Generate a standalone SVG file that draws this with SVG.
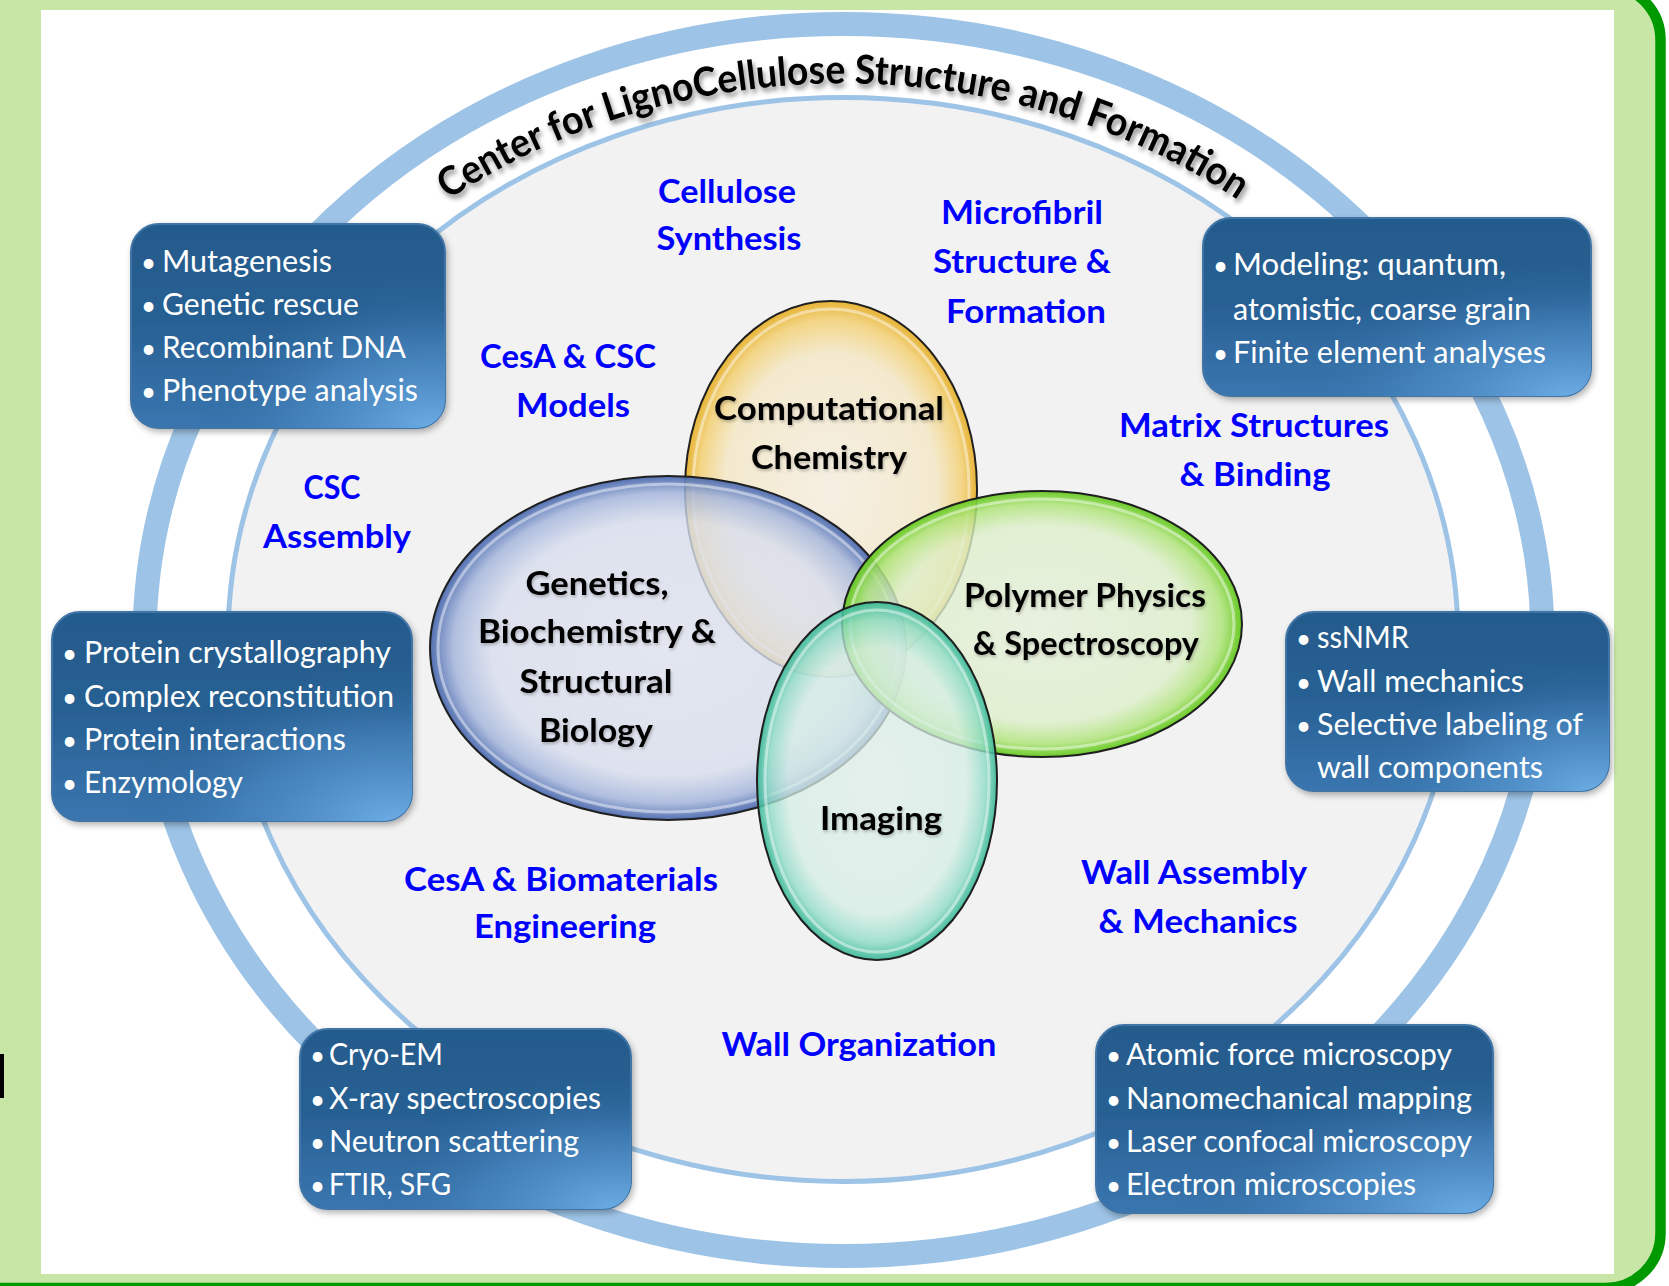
<svg xmlns="http://www.w3.org/2000/svg" xmlns:xlink="http://www.w3.org/1999/xlink" width="1669" height="1286" viewBox="0 0 1669 1286">
  <style>
    .title { font-family: Lato, "Open Sans", sans-serif; font-weight: 700; font-size: 40px; fill: #000; }
    .lbl { font-family: Lato, "Open Sans", sans-serif; font-weight: 700; font-size: 32px; fill: #0000ff; text-anchor: middle; }
    .vn { font-family: Lato, "Open Sans", sans-serif; font-weight: 700; font-size: 32px; fill: #000; text-anchor: middle; }
    .bx { font-family: Lato, "Open Sans", sans-serif; font-weight: 400; font-size: 31px; fill: #fff; }
    .dot { font-size: 26px; }
    .card { fill: url(#cardFill); stroke: #3f74a6; stroke-width: 2; filter: url(#cardShadow); }
    .gloss { fill: url(#cardGloss); }
    .ring-outer { fill: none; stroke: #9dc3e6; stroke-width: 24; }
    .ring-inner { fill: #f2f2f2; stroke: #9dc3e6; stroke-width: 5; }
    .venn { stroke: #1f1f1f; stroke-width: 2; }
    .rim { fill: none; stroke: #ffffff; stroke-width: 3; stroke-opacity: 0.45; }
  </style>
  <defs>
    <linearGradient id="cardFill" x1="0" y1="0" x2="0" y2="1">
      <stop offset="0" stop-color="#245b8c"/>
      <stop offset="0.45" stop-color="#275f92"/>
      <stop offset="1" stop-color="#3a76b0"/>
    </linearGradient>
    <radialGradient id="cardGloss" cx="0.95" cy="1" r="0.75" fx="0.95" fy="1">
      <stop offset="0" stop-color="#6eaee6" stop-opacity="0.95"/>
      <stop offset="0.55" stop-color="#4d8cc6" stop-opacity="0.55"/>
      <stop offset="1" stop-color="#2d6699" stop-opacity="0"/>
    </radialGradient>
    <filter id="cardShadow" x="-10%" y="-10%" width="125%" height="130%">
      <feDropShadow dx="2" dy="3" stdDeviation="3" flood-color="#000" flood-opacity="0.3"/>
    </filter>
    <filter id="titleShadow" x="-5%" y="-20%" width="110%" height="150%">
      <feDropShadow dx="2" dy="4" stdDeviation="2.5" flood-color="#000" flood-opacity="0.45"/>
    </filter>
    <filter id="softShadow" x="-10%" y="-10%" width="120%" height="130%">
      <feDropShadow dx="1" dy="2" stdDeviation="1.5" flood-color="#000" flood-opacity="0.25"/>
    </filter>
    <radialGradient id="gYellow" cx="0.5" cy="0.5" r="0.5">
      <stop offset="0" stop-color="#f6efe0" stop-opacity="0.85"/>
      <stop offset="0.72" stop-color="#f4e8c8" stop-opacity="0.85"/>
      <stop offset="0.9" stop-color="#f3d27a" stop-opacity="0.9"/>
      <stop offset="1" stop-color="#e6b02c" stop-opacity="0.95"/>
    </radialGradient>
    <radialGradient id="gBlue" cx="0.5" cy="0.5" r="0.5">
      <stop offset="0" stop-color="#dfe3ef" stop-opacity="0.8"/>
      <stop offset="0.74" stop-color="#d8deed" stop-opacity="0.8"/>
      <stop offset="0.9" stop-color="#a5b6dc" stop-opacity="0.85"/>
      <stop offset="1" stop-color="#4a69ae" stop-opacity="0.95"/>
    </radialGradient>
    <radialGradient id="gGreen" cx="0.5" cy="0.5" r="0.5">
      <stop offset="0" stop-color="#e5f0da" stop-opacity="0.8"/>
      <stop offset="0.74" stop-color="#ddefca" stop-opacity="0.8"/>
      <stop offset="0.9" stop-color="#b0e47a" stop-opacity="0.85"/>
      <stop offset="1" stop-color="#62c81c" stop-opacity="0.95"/>
    </radialGradient>
    <radialGradient id="gTeal" cx="0.5" cy="0.5" r="0.5">
      <stop offset="0" stop-color="#e0efe9" stop-opacity="0.75"/>
      <stop offset="0.74" stop-color="#d6eee6" stop-opacity="0.75"/>
      <stop offset="0.9" stop-color="#90dcc6" stop-opacity="0.8"/>
      <stop offset="1" stop-color="#34b795" stop-opacity="0.9"/>
    </radialGradient>
    <path id="titleArc" d="M 283 364 A 645 557 0 0 1 1403 364"/>
  </defs>

  <!-- page frame -->
  <rect x="0" y="0" width="1669" height="1286" fill="#ffffff"/>
  <rect x="-60" y="-15" width="1720.5" height="1303" rx="55" ry="55" fill="#c8e6a6" stroke="#009a00" stroke-width="10.5"/>
  <rect x="41" y="10" width="1573" height="1264" fill="#ffffff"/>
  <rect x="0" y="1054" width="4" height="44" fill="#000000"/>

  <!-- rings -->
  <g id="rings">
    <ellipse class="ring-outer" cx="843.5" cy="640" rx="699" ry="616"/>
    <ellipse class="ring-inner" cx="843" cy="639.5" rx="615" ry="542"/>
  </g>

  <!-- curved title -->
  <g id="title" filter="url(#titleShadow)">
    <text class="title"><textPath xlink:href="#titleArc" href="#titleArc" startOffset="50%" text-anchor="middle" textLength="835" lengthAdjust="spacingAndGlyphs">Center for LignoCellulose Structure and Formation</textPath></text>
  </g>

  <!-- research area labels -->
  <g id="area-labels">
    <g id="lbl-cellulose-synthesis">
      <text class="lbl" x="727" y="203" textLength="138" lengthAdjust="spacingAndGlyphs">Cellulose</text>
      <text class="lbl" x="729" y="250" textLength="145" lengthAdjust="spacingAndGlyphs">Synthesis</text>
    </g>
    <g id="lbl-microfibril">
      <text class="lbl" x="1022" y="224" textLength="162" lengthAdjust="spacingAndGlyphs">Microfibril</text>
      <text class="lbl" x="1022" y="273" textLength="178" lengthAdjust="spacingAndGlyphs">Structure &amp;</text>
      <text class="lbl" x="1026" y="323" textLength="160" lengthAdjust="spacingAndGlyphs">Formation</text>
    </g>
    <g id="lbl-cesa-csc">
      <text class="lbl" x="568" y="368" textLength="176" lengthAdjust="spacingAndGlyphs">CesA &amp; CSC</text>
      <text class="lbl" x="573" y="417" textLength="114" lengthAdjust="spacingAndGlyphs">Models</text>
    </g>
    <g id="lbl-csc-assembly">
      <text class="lbl" x="332" y="499" textLength="57" lengthAdjust="spacingAndGlyphs">CSC</text>
      <text class="lbl" x="337" y="548" textLength="148" lengthAdjust="spacingAndGlyphs">Assembly</text>
    </g>
    <g id="lbl-matrix">
      <text class="lbl" x="1254" y="437" textLength="270" lengthAdjust="spacingAndGlyphs">Matrix Structures</text>
      <text class="lbl" x="1255" y="486" textLength="151" lengthAdjust="spacingAndGlyphs">&amp; Binding</text>
    </g>
    <g id="lbl-biomaterials">
      <text class="lbl" x="561" y="891" textLength="314" lengthAdjust="spacingAndGlyphs">CesA &amp; Biomaterials</text>
      <text class="lbl" x="565" y="938" textLength="182" lengthAdjust="spacingAndGlyphs">Engineering</text>
    </g>
    <g id="lbl-wall-assembly">
      <text class="lbl" x="1194" y="884" textLength="226" lengthAdjust="spacingAndGlyphs">Wall Assembly</text>
      <text class="lbl" x="1198" y="933" textLength="199" lengthAdjust="spacingAndGlyphs">&amp; Mechanics</text>
    </g>
    <g id="lbl-wall-organization">
      <text class="lbl" x="859" y="1056" textLength="275" lengthAdjust="spacingAndGlyphs">Wall Organization</text>
    </g>
  </g>

  <!-- Venn of disciplines -->
  <g id="venn">
    <g id="comp-chem">
      <ellipse class="venn" cx="831" cy="489" rx="146" ry="188" fill="url(#gYellow)"/>
      <ellipse class="rim" cx="831" cy="489" rx="138" ry="180"/>
    </g>
    <g id="genetics">
      <ellipse class="venn" cx="668" cy="648" rx="238" ry="172" fill="url(#gBlue)"/>
      <ellipse class="rim" cx="668" cy="648" rx="230" ry="164"/>
    </g>
    <g id="polymer">
      <ellipse class="venn" cx="1042" cy="624" rx="200" ry="133" fill="url(#gGreen)"/>
      <ellipse class="rim" cx="1042" cy="624" rx="192" ry="125"/>
    </g>
    <g id="imaging">
      <ellipse class="venn" cx="877" cy="781" rx="120" ry="179" fill="url(#gTeal)"/>
      <ellipse class="rim" cx="877" cy="781" rx="112" ry="171"/>
    </g>
    <g id="venn-labels" filter="url(#softShadow)">
      <text class="vn" x="829" y="420" textLength="230" lengthAdjust="spacingAndGlyphs">Computational</text>
      <text class="vn" x="829" y="469" textLength="156" lengthAdjust="spacingAndGlyphs">Chemistry</text>
      <text class="vn" x="597" y="595" textLength="143" lengthAdjust="spacingAndGlyphs">Genetics,</text>
      <text class="vn" x="597" y="643" textLength="238" lengthAdjust="spacingAndGlyphs">Biochemistry &amp;</text>
      <text class="vn" x="596" y="693" textLength="153" lengthAdjust="spacingAndGlyphs">Structural</text>
      <text class="vn" x="596" y="742" textLength="114" lengthAdjust="spacingAndGlyphs">Biology</text>
      <text class="vn" x="1085" y="607" textLength="242" lengthAdjust="spacingAndGlyphs">Polymer Physics</text>
      <text class="vn" x="1086" y="655" textLength="226" lengthAdjust="spacingAndGlyphs">&amp; Spectroscopy</text>
      <text class="vn" x="881" y="830" textLength="122" lengthAdjust="spacingAndGlyphs">Imaging</text>
    </g>
  </g>

  <!-- method cards -->
  <g id="card-genetics">
    <rect class="card" x="131" y="224" width="314" height="204" rx="28"/>
    <rect class="gloss" x="131" y="224" width="314" height="204" rx="28"/>
    <text class="bx" y="272"><tspan class="dot" x="141">•</tspan><tspan x="162" textLength="170" lengthAdjust="spacingAndGlyphs">Mutagenesis</tspan></text>
    <text class="bx" y="315"><tspan class="dot" x="141">•</tspan><tspan x="162" textLength="197" lengthAdjust="spacingAndGlyphs">Genetic rescue</tspan></text>
    <text class="bx" y="358"><tspan class="dot" x="141">•</tspan><tspan x="162" textLength="244" lengthAdjust="spacingAndGlyphs">Recombinant DNA</tspan></text>
    <text class="bx" y="401"><tspan class="dot" x="141">•</tspan><tspan x="162" textLength="256" lengthAdjust="spacingAndGlyphs">Phenotype analysis</tspan></text>
  </g>
  <g id="card-modeling">
    <rect class="card" x="1203" y="218" width="388" height="178" rx="28"/>
    <rect class="gloss" x="1203" y="218" width="388" height="178" rx="28"/>
    <text class="bx" y="275"><tspan class="dot" x="1213">•</tspan><tspan x="1233" textLength="273" lengthAdjust="spacingAndGlyphs">Modeling: quantum,</tspan></text>
    <text class="bx" y="320"><tspan x="1233" textLength="298" lengthAdjust="spacingAndGlyphs">atomistic, coarse grain</tspan></text>
    <text class="bx" y="363"><tspan class="dot" x="1213">•</tspan><tspan x="1233" textLength="313" lengthAdjust="spacingAndGlyphs">Finite element analyses</tspan></text>
  </g>
  <g id="card-biochem">
    <rect class="card" x="52" y="612" width="360" height="209" rx="28"/>
    <rect class="gloss" x="52" y="612" width="360" height="209" rx="28"/>
    <text class="bx" y="663"><tspan class="dot" x="62">•</tspan><tspan x="84" textLength="307" lengthAdjust="spacingAndGlyphs">Protein crystallography</tspan></text>
    <text class="bx" y="707"><tspan class="dot" x="62">•</tspan><tspan x="84" textLength="310" lengthAdjust="spacingAndGlyphs">Complex reconstitution</tspan></text>
    <text class="bx" y="750"><tspan class="dot" x="62">•</tspan><tspan x="84" textLength="262" lengthAdjust="spacingAndGlyphs">Protein interactions</tspan></text>
    <text class="bx" y="793"><tspan class="dot" x="62">•</tspan><tspan x="84" textLength="159" lengthAdjust="spacingAndGlyphs">Enzymology</tspan></text>
  </g>
  <g id="card-nmr">
    <rect class="card" x="1286" y="612" width="323" height="179" rx="28"/>
    <rect class="gloss" x="1286" y="612" width="323" height="179" rx="28"/>
    <text class="bx" y="648"><tspan class="dot" x="1296">•</tspan><tspan x="1317" textLength="92" lengthAdjust="spacingAndGlyphs">ssNMR</tspan></text>
    <text class="bx" y="692"><tspan class="dot" x="1296">•</tspan><tspan x="1317" textLength="207" lengthAdjust="spacingAndGlyphs">Wall mechanics</tspan></text>
    <text class="bx" y="735"><tspan class="dot" x="1296">•</tspan><tspan x="1317" textLength="266" lengthAdjust="spacingAndGlyphs">Selective labeling of</tspan></text>
    <text class="bx" y="778"><tspan x="1317" textLength="226" lengthAdjust="spacingAndGlyphs">wall components</tspan></text>
  </g>
  <g id="card-scattering">
    <rect class="card" x="300" y="1029" width="331" height="180" rx="28"/>
    <rect class="gloss" x="300" y="1029" width="331" height="180" rx="28"/>
    <text class="bx" y="1065"><tspan class="dot" x="310">•</tspan><tspan x="329" textLength="114" lengthAdjust="spacingAndGlyphs">Cryo-EM</tspan></text>
    <text class="bx" y="1109"><tspan class="dot" x="310">•</tspan><tspan x="329" textLength="272" lengthAdjust="spacingAndGlyphs">X-ray spectroscopies</tspan></text>
    <text class="bx" y="1152"><tspan class="dot" x="310">•</tspan><tspan x="329" textLength="250" lengthAdjust="spacingAndGlyphs">Neutron scattering</tspan></text>
    <text class="bx" y="1195"><tspan class="dot" x="310">•</tspan><tspan x="329" textLength="122" lengthAdjust="spacingAndGlyphs">FTIR, SFG</tspan></text>
  </g>
  <g id="card-microscopy">
    <rect class="card" x="1096" y="1025" width="397" height="188" rx="28"/>
    <rect class="gloss" x="1096" y="1025" width="397" height="188" rx="28"/>
    <text class="bx" y="1065"><tspan class="dot" x="1106">•</tspan><tspan x="1126" textLength="326" lengthAdjust="spacingAndGlyphs">Atomic force microscopy</tspan></text>
    <text class="bx" y="1109"><tspan class="dot" x="1106">•</tspan><tspan x="1126" textLength="346" lengthAdjust="spacingAndGlyphs">Nanomechanical mapping</tspan></text>
    <text class="bx" y="1152"><tspan class="dot" x="1106">•</tspan><tspan x="1126" textLength="346" lengthAdjust="spacingAndGlyphs">Laser confocal microscopy</tspan></text>
    <text class="bx" y="1195"><tspan class="dot" x="1106">•</tspan><tspan x="1126" textLength="290" lengthAdjust="spacingAndGlyphs">Electron microscopies</tspan></text>
  </g>

  <!-- no connectors: the layout is joined by overlap, not by lines -->
  <g id="connectors"/>
</svg>
